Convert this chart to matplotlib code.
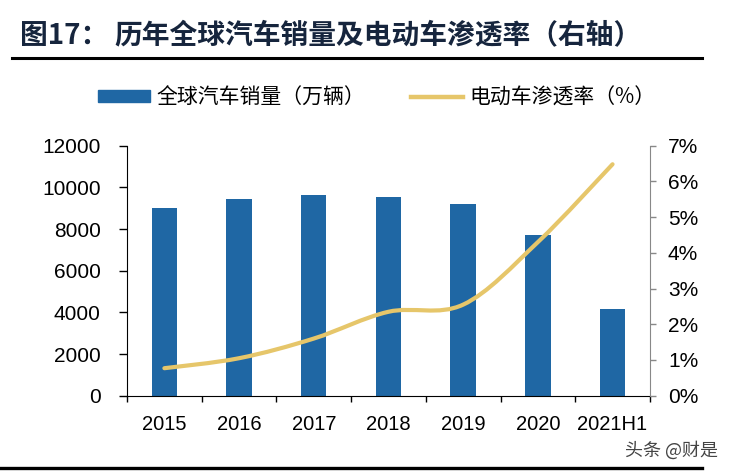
import matplotlib.pyplot as plt
from matplotlib.path import Path
from matplotlib.patches import PathPatch
from matplotlib.lines import Line2D
import numpy as np

plt.rcParams['font.family'] = ['Liberation Sans', 'Noto Sans CJK SC', 'DejaVu Sans']
cjk = ['Noto Sans CJK SC', 'DejaVu Sans']

years = ["2015", "2016", "2017", "2018", "2019", "2020", "2021H1"]
sales = [9030, 9440, 9620, 9550, 9190, 7700, 4160]      # 万辆
ev_rate = [0.77, 1.05, 1.6, 2.35, 2.55, 4.3, 6.48]      # %

bar_color = "#1f67a4"
line_color = "#e6c66a"

fig = plt.figure(figsize=(7.36, 4.73), dpi=100)
ax = fig.add_axes([0.1726, 0.1634, 0.7104, 0.5286])
ax2 = ax.twinx()

x = np.arange(len(years))
ax.bar(x, sales, width=0.34, color=bar_color, zorder=2)
ax.set_xlim(-0.5, len(years) - 0.5)
ax.set_ylim(0, 12000)
ax.set_yticks(range(0, 12001, 2000))
ax.set_xticks(x)
ax.set_xticklabels(years, fontsize=14.5)
ax.set_xticks(np.arange(-0.5, len(years)), minor=True)
ax.tick_params(axis='x', which='major', length=0, pad=14)
ax.tick_params(axis='x', which='minor', length=4.5, width=1, direction='out')
ax.tick_params(axis='y', labelsize=15, length=6, width=1, pad=13)
for s in ['top', 'right']:
    ax.spines[s].set_visible(False)
ax2.spines['top'].set_visible(False)
ax2.spines['left'].set_visible(False)
ax2.spines['bottom'].set_visible(False)
ax2.spines['right'].set_color('#888888')

# smooth line (Excel style bezier through the points)
ax2.set_ylim(0, 7)
ax2.set_yticks(range(0, 8))
ax2.set_yticklabels([f"{v}%" for v in range(0, 8)])
ax2.tick_params(axis='y', labelsize=15, length=4.5, width=1, color='#888888', pad=8.5)
pts = np.column_stack([x, ev_rate])
verts = [tuple(pts[0])]
codes = [Path.MOVETO]
n = len(pts)
for i in range(n - 1):
    p0 = pts[max(i - 1, 0)]
    p1 = pts[i]
    p2 = pts[i + 1]
    p3 = pts[min(i + 2, n - 1)]
    c1 = p1 + (p2 - p0) / 6
    c2 = p2 - (p3 - p1) / 6
    verts += [tuple(c1), tuple(c2), tuple(p2)]
    codes += [Path.CURVE4] * 3
ax2.add_patch(PathPatch(Path(verts, codes), fill=False, edgecolor=line_color,
                        lw=3, capstyle='round', zorder=3))

# title and rules
fig.text(0.027, 0.924, "图17：", fontsize=20, fontweight='bold', color='#16253d',
         va='center', family=cjk)
fig.text(0.156, 0.924, "历年全球汽车销量及电动车渗透率（右轴）", fontsize=20,
         fontweight='bold', color='#16253d', va='center', family=cjk)
fig.add_artist(Line2D([0.016, 0.954], [0.877, 0.877], color='black', lw=2.2))
fig.add_artist(Line2D([0.0, 0.954], [0.0106, 0.0106], color='black', lw=2.4))

# legend
handles = [plt.Rectangle((0, 0), 1, 1, color=bar_color),
           Line2D([0], [0], color=line_color, lw=3.2)]
fig.legend(handles, ["全球汽车销量（万辆）", "电动车渗透率（%）"], loc='center left',
           bbox_to_anchor=(98 / 736, 1 - 97.5 / 473), ncol=2, frameon=False,
           handlelength=2.5, handleheight=0.55, handletextpad=0.3,
           columnspacing=2.2, borderpad=0, borderaxespad=0,
           prop={'family': cjk, 'size': 15})

fig.text(0.849, 0.0486, "头条 @财是", fontsize=13, color='#444444', va='center',
         family=cjk)

fig.savefig("out.png", dpi=100)
